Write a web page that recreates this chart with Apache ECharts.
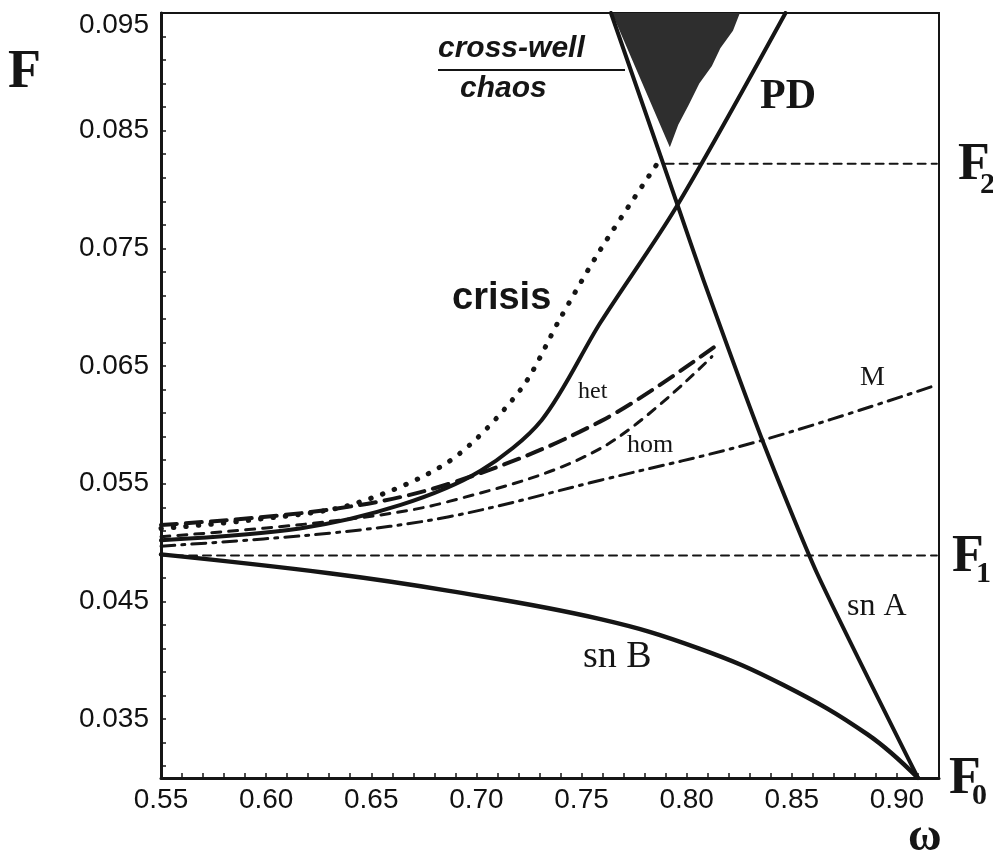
<!DOCTYPE html>
<html><head><meta charset="utf-8">
<script src="https://cdn.jsdelivr.net/npm/echarts@6/dist/echarts.min.js"></script>
<style>html,body{margin:0;padding:0;background:#fff}#c{width:993px;height:866px}</style>
</head><body><div id="c"></div>
<script>
// ---- data (omega, F) ----
const xTickLabels = [0.55, 0.60, 0.65, 0.70, 0.75, 0.80, 0.85, 0.90];
const xTicks = [0.55,0.56,0.57,0.58,0.59,0.60,0.61,0.62,0.63,0.64,0.65,0.66,0.67,0.68,0.69,0.70,0.71,0.72,0.73,0.74,0.75,0.76,0.77,0.78,0.79,0.80,0.81,0.82,0.83,0.84,0.85,0.86,0.87,0.88,0.89,0.90,0.91];
const yTickLabels = [0.035, 0.045, 0.055, 0.065, 0.075, 0.085, 0.095];
const yTicks = [0.031,0.033,0.035,0.037,0.039,0.041,0.043,0.045,0.047,0.049,0.051,0.053,0.055,0.057,0.059,0.061,0.063,0.065,0.067,0.069,0.071,0.073,0.075,0.077,0.079,0.081,0.083,0.085,0.087,0.089,0.091,0.093,0.095];

const snA = [[0.910,0.0300],[0.862,0.0474],[0.836,0.0587],[0.808,0.0723],[0.796,0.0785],[0.764,0.0950]];
const snB = [[0.550,0.0490],[0.630,0.0474],[0.687,0.0459],[0.759,0.0435],[0.806,0.0410],[0.846,0.0379],[0.886,0.0337],[0.910,0.0300]];
const crisisPD = [[0.550,0.0502],[0.616,0.0512],[0.664,0.0532],[0.702,0.0561],[0.731,0.0604],[0.759,0.0687],[0.795,0.0785],[0.847,0.0950]];
const dottedLine = [[0.550,0.0512],[0.592,0.0519],[0.640,0.0532],[0.687,0.0569],[0.721,0.0630],[0.740,0.0691],[0.759,0.0749],[0.786,0.0822]];
const hetLine = [[0.550,0.0515],[0.630,0.0528],[0.687,0.0550],[0.759,0.0603],[0.816,0.0670]];
const homLine = [[0.550,0.0505],[0.630,0.0518],[0.687,0.0535],[0.759,0.0580],[0.812,0.0658]];
const mLine = [[0.550,0.0497],[0.630,0.0508],[0.687,0.0522],[0.759,0.0553],[0.836,0.0587],[0.919,0.0634]];
const f1Line = [[0.550,0.0489],[0.919,0.0489]];
const f2Line = [[0.790,0.0822],[0.919,0.0822]];
const chaosRegion = [[0.7645,0.0950],[0.8253,0.0950],[0.822,0.0935],[0.816,0.0920],[0.812,0.0905],[0.806,0.0890],[0.801,0.0872],[0.796,0.0855],[0.792,0.0836]];

const chart = echarts.init(document.getElementById('c'), null, {renderer:'canvas'});
const black = '#151515';
function lineSeries(data, width, type, extra) {
  return Object.assign({
    type:'line', data:data, symbol:'none', smooth:0.35, silent:true, z:3,
    lineStyle:{color:black, width:width, type:type, cap:'round', join:'round'}
  }, extra||{});
}
const serif = '"Liberation Serif","DejaVu Serif",serif';
const sans = '"Liberation Sans",Arial,sans-serif';
function txt(x,y,text,size,font,weight,style) {
  return {type:'text', left:x, top:y, z:10, style:{text:text, font:(style||'normal')+' '+(weight||'normal')+' '+size+'px '+font, fill:black, textVerticalAlign:'top'}};
}
chart.setOption({
  animation:false,
  backgroundColor:'#fff',
  grid:{left:161, right:54, top:13, bottom:88, show:true, borderColor:black, borderWidth:2, backgroundColor:'transparent'},
  xAxis:{type:'value', min:0.55, max:0.92,
    axisLine:{onZero:false, lineStyle:{color:black, width:3}},
    axisTick:{inside:true, length:5, lineStyle:{color:black,width:1.5}, customValues:xTicks},
    axisLabel:{customValues:xTickLabels, formatter:v=>v.toFixed(2), color:'#111', fontSize:28, fontFamily:sans, margin:8},
    splitLine:{show:false}},
  yAxis:{type:'value', min:0.03, max:0.095,
    axisLine:{onZero:false, lineStyle:{color:black, width:3}},
    axisTick:{inside:true, length:5, lineStyle:{color:black,width:1.5}, customValues:yTicks},
    axisLabel:{customValues:yTickLabels, color:'#111', fontSize:28, fontFamily:sans, margin:12,
      formatter:v=>(Math.abs(v-0.095)<1e-9 ? '{top|'+v.toFixed(3)+'}' : v.toFixed(3)),
      rich:{top:{fontSize:28, fontFamily:sans, color:'#111', padding:[24,0,0,0]}}},
    splitLine:{show:false}},
  series:[
    {type:'custom', silent:true, z:2, data:[0],
      renderItem:function(params, api){
        const pts = chaosRegion.map(p=>api.coord(p));
        return {type:'polygon', shape:{points:pts}, style:{fill:'#2e2e2e'}};
      }},
    lineSeries(snA, 4, 'solid', {smooth:0.2}),
    lineSeries(snB, 4.5, 'solid', {smooth:0.4}),
    lineSeries(crisisPD, 4, 'solid', {smooth:0.3}),
    lineSeries(dottedLine, 5, [0.5,12], {smooth:0.3}),
    lineSeries(hetLine, 4, [16,9]),
    lineSeries(homLine, 3, [9,8]),
    lineSeries(mLine, 3, [14,7,3,7]),
    lineSeries(f1Line, 2, [8,6], {smooth:false}),
    lineSeries(f2Line, 2, [8,6], {smooth:false})
  ],
  graphic:[
    txt(8,46,'F',54,serif,'bold'),
    txt(958,140,'F',52,serif,'bold'), txt(980,170,'2',30,serif,'bold'),
    txt(952,532,'F',52,serif,'bold'), txt(976,559,'1',30,serif,'bold'),
    txt(949,754,'F',52,serif,'bold'), txt(972,781,'0',30,serif,'bold'),
    txt(908,815,'ω',46,serif,'bold'),
    txt(760,76,'PD',42,serif,'bold'),
    txt(452,280,'crisis',38,sans,'bold'),
    txt(578,380,'het',24,serif),
    txt(627,432,'hom',26,serif),
    txt(860,364,'M',28,serif),
    txt(847,591,'sn A',32,serif),
    txt(583,638,'sn B',38,serif),
    txt(438,34,'cross-well',30,sans,'bold','italic'),
    txt(460,74,'chaos',30,sans,'bold','italic'),
    {type:'line', z:10, shape:{x1:438,y1:70,x2:625,y2:70}, style:{stroke:black, lineWidth:2}}
  ]
});
</script></body></html>
